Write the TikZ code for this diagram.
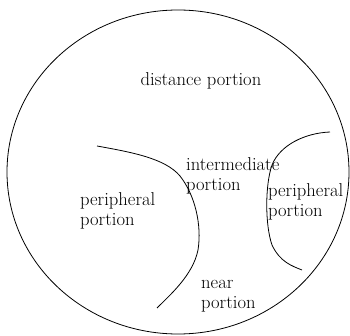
\documentclass[tikz,border=0pt]{standalone}
\begin{document}
\begin{tikzpicture}[x=1pt,y=-1pt,
  lbl/.style={inner sep=0pt,align=left,font=\fontsize{18.6}{20.5}\selectfont},
  ln/.style={line width=0.8pt,black}]
\useasboundingbox (0,0) rectangle (350,336);
\draw[ln] (178,172) ellipse [x radius=171,y radius=162];
\node[lbl] (dist) at (201,81) {distance portion};
\node[lbl,anchor=west] (inter) at (186,176) {intermediate\\portion};
\node[lbl,anchor=west] (pl) at (80,211) {peripheral\\portion};
\node[lbl,anchor=west] (pr) at (268,202) {peripheral\\portion};
\node[lbl,anchor=west] (near) at (201,296) {near\\portion};
\draw[ln] (97,146) .. controls (130,152) and (165,158) .. (180,176)
  .. controls (195,195) and (202,225) .. (198,250)
  .. controls (193,275) and (170,295) .. (157,308);
\draw[ln] (330,132) .. controls (305,133) and (280,145) .. (272,165)
  .. controls (265,185) and (265,225) .. (272,245)
  .. controls (280,262) and (292,266) .. (302,270);
\end{tikzpicture}
\end{document}
